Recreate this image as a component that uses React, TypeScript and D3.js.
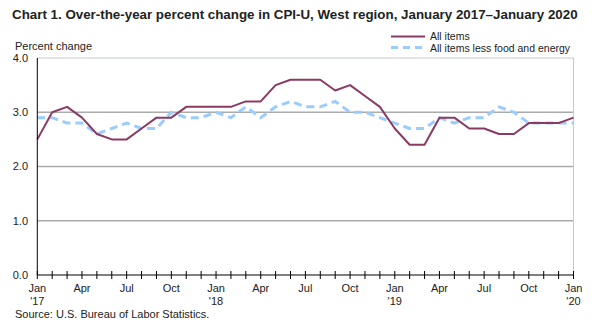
import React from "react";
import * as d3 from "d3";

const months: string[] = d3.range(37).map((i) => `m${i}`);
const allItems: number[] = [
  2.5, 3.0, 3.1, 2.9, 2.6, 2.5, 2.5, 2.7, 2.9, 2.9, 3.1, 3.1,
  3.1, 3.1, 3.2, 3.2, 3.5, 3.6, 3.6, 3.6, 3.4, 3.5, 3.3, 3.1,
  2.7, 2.4, 2.4, 2.9, 2.9, 2.7, 2.7, 2.6, 2.6, 2.8, 2.8, 2.8,
  2.9,
];
const coreItems: number[] = [
  2.9, 2.9, 2.8, 2.8, 2.6, 2.7, 2.8, 2.7, 2.7, 3.0, 2.9, 2.9,
  3.0, 2.9, 3.1, 2.9, 3.1, 3.2, 3.1, 3.1, 3.2, 3.0, 3.0, 2.9,
  2.8, 2.7, 2.7, 2.9, 2.8, 2.9, 2.9, 3.1, 3.0, 2.8, 2.8, 2.8,
  2.8,
];
const yTicks: number[] = [0, 1, 2, 3, 4];
const xMonthLabels: string[] = ["Jan", "Apr", "Jul", "Oct"];
const yearLabels: string[] = ["'17", "'18", "'19", "'20"];
const seriesNames: string[] = ["All items", "All items less food and energy"];

const W = 600;
const H = 327;
const left = 37.3;
const right = 573.5;
const top = 58;
const bottom = 275;
const FONT = "'Liberation Sans', Arial, sans-serif";
const PURPLE = "#8B3A62";
const BLUE = "#99CCFF";

export default function App() {
  const x = d3.scaleLinear().domain([0, months.length - 1]).range([left, right]);
  const y = d3.scaleLinear().domain([0, 4]).range([bottom, top]);
  const line = d3
    .line<number>()
    .x((_, i) => x(i))
    .y((d) => y(d));

  return (
    <svg
      width={W}
      height={H}
      style={{ position: "absolute", left: 0, top: 0, background: "#fff" }}
      fontFamily={FONT}
    >
      <text x={12} y={19} fontSize={13.35} fontWeight="bold" fill="#222">
        Chart 1. Over-the-year percent change in CPI-U, West region, January 2017–January 2020
      </text>
      <text x={15} y={50} fontSize={11} fill="#222">
        Percent change
      </text>

      {/* legend */}
      <line x1={391} x2={425} y1={36.5} y2={36.5} stroke={PURPLE} strokeWidth={2} />
      <text x={430} y={40} fontSize={10.5} fill="#222">
        {seriesNames[0]}
      </text>
      <line
        x1={391}
        x2={425}
        y1={47.5}
        y2={47.5}
        stroke={BLUE}
        strokeWidth={3}
        strokeDasharray="7,5"
      />
      <text x={430} y={51.5} fontSize={10.5} fill="#222">
        {seriesNames[1]}
      </text>

      {/* gridlines */}
      {yTicks.slice(1, 4).map((t) => (
        <line key={t} x1={left} x2={right} y1={y(t)} y2={y(t)} stroke="#ababab" strokeWidth={1.3} />
      ))}
      {/* border */}
      <line x1={left} x2={right} y1={y(4)} y2={y(4)} stroke="#c4ccc4" strokeWidth={1} />
      <line x1={right} x2={right} y1={y(4)} y2={y(0)} stroke="#c4ccc4" strokeWidth={1} />

      {/* y tick labels */}
      {yTicks.map((t) => (
        <text
          key={t}
          x={28}
          y={y(t)}
          dy="0.35em"
          textAnchor="end"
          fontSize={11}
          fill="#222"
        >
          {t.toFixed(1)}
        </text>
      ))}

      {/* series */}
      <path
        d={line(coreItems) || ""}
        fill="none"
        stroke={BLUE}
        strokeWidth={3}
        strokeDasharray="8,5"
      />
      <path d={line(allItems) || ""} fill="none" stroke={PURPLE} strokeWidth={2} strokeLinejoin="round" />

      {/* axes */}
      <line x1={left} x2={left} y1={y(4)} y2={y(0)} stroke="#000" strokeWidth={1} />
      <line x1={left} x2={right} y1={y(0)} y2={y(0)} stroke="#000" strokeWidth={1} />
      {months.map((_, i) => (
        <line key={i} x1={x(i)} x2={x(i)} y1={y(0) - 4} y2={y(0) + 4} stroke="#000" strokeWidth={1} />
      ))}

      {/* x labels */}
      {months.map((_, i) =>
        i % 3 === 0 ? (
          <g key={i}>
            <text x={x(i)} y={292} textAnchor="middle" fontSize={11} fill="#222">
              {xMonthLabels[(i / 3) % 4]}
            </text>
            {i % 12 === 0 ? (
              <text x={x(i)} y={305} textAnchor="middle" fontSize={11} fill="#222">
                {yearLabels[i / 12]}
              </text>
            ) : null}
          </g>
        ) : null
      )}

      <text x={15} y={318} fontSize={11} fill="#222">
        Source: U.S. Bureau of Labor Statistics.
      </text>
    </svg>
  );
}
